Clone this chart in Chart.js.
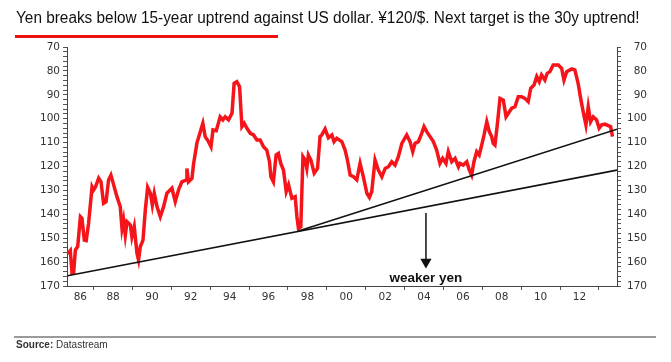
<!DOCTYPE html>
<html>
<head>
<meta charset="utf-8">
<script src="https://cdn.jsdelivr.net/npm/chart.js@4.4.1/dist/chart.umd.min.js"></script>
<style>
  html, body { margin: 0; padding: 0; background: #fff; }
  #wrap { position: relative; width: 671px; height: 362px; overflow: hidden; }
  #title { position: absolute; left: 16px; top: 10px; font: 16px/16px "Liberation Sans", Arial, sans-serif; color: #111; white-space: nowrap; transform-origin: 0 0; }
  #underline { position: absolute; left: 15px; top: 35px; width: 263px; height: 3px; background: #ee1111; }
  #srcline { position: absolute; left: 14px; top: 336px; width: 642px; height: 2px; background: #9a9a9a; }
  #source { position: absolute; left: 16px; top: 339px; font: 10px/12px "Liberation Sans", Arial, sans-serif; color: #333; }
  canvas { position: absolute; left: 0; top: 0; }
</style>
</head>
<body>
<div id="wrap">
  <canvas id="fx" width="671" height="362"></canvas>
  <div id="title">Yen breaks below 15-year uptrend against US dollar. ¥120/$. Next target is the 30y uptrend!</div>
  <div id="underline"></div>
  <div id="srcline"></div>
  <div id="source"><b>Source:</b> Datastream</div>
</div>
<script>
// USD/JPY (decimal years)
const fxYears = [
  1986.66, 1986.80, 1986.89, 1986.97, 1987.06, 1987.18, 1987.32, 1987.40, 1987.52, 1987.62,
  1987.74, 1987.92, 1988.00, 1988.09, 1988.26, 1988.38, 1988.51, 1988.64, 1988.77, 1988.89,
  1989.03, 1989.20, 1989.37, 1989.46, 1989.54, 1989.63, 1989.72, 1989.89, 1989.97, 1990.09,
  1990.23, 1990.31, 1990.40, 1990.54, 1990.66, 1990.78, 1990.92, 1991.02, 1991.12, 1991.26,
  1991.43, 1991.60, 1991.77, 1992.03, 1992.20, 1992.37, 1992.54, 1992.77, 1992.80, 1992.88,
  1993.06, 1993.14, 1993.32, 1993.45, 1993.62, 1993.74, 1993.91, 1994.04, 1994.14, 1994.31,
  1994.51, 1994.65, 1994.77, 1994.94, 1995.12, 1995.23, 1995.37, 1995.51, 1995.63, 1995.75,
  1995.89, 1996.06, 1996.23, 1996.40, 1996.57, 1996.74, 1996.91, 1997.05, 1997.12, 1997.25,
  1997.39, 1997.51, 1997.63, 1997.77, 1997.91, 1998.03, 1998.20, 1998.37, 1998.46, 1998.54,
  1998.66, 1998.77, 1998.88, 1998.97, 1999.05, 1999.18, 1999.35, 1999.52, 1999.65, 1999.74,
  1999.91, 2000.08, 2000.26, 2000.37, 2000.51, 2000.77, 2000.94, 2001.06, 2001.20, 2001.37,
  2001.54, 2001.71, 2001.88, 2002.06, 2002.19, 2002.31, 2002.48, 2002.65, 2002.83, 2003.00,
  2003.17, 2003.34, 2003.51, 2003.68, 2003.86, 2004.11, 2004.28, 2004.42, 2004.54, 2004.71,
  2004.88, 2005.00, 2005.14, 2005.31, 2005.48, 2005.65, 2005.82, 2005.96, 2006.13, 2006.25,
  2006.43, 2006.60, 2006.77, 2006.85, 2007.02, 2007.20, 2007.33, 2007.45, 2007.57, 2007.71,
  2007.84, 2007.97, 2008.09, 2008.23, 2008.36, 2008.48, 2008.56, 2008.65, 2008.77, 2008.91,
  2009.08, 2009.22, 2009.34, 2009.51, 2009.68, 2009.85, 2010.02, 2010.19, 2010.36, 2010.49,
  2010.66, 2010.80, 2010.93, 2011.05, 2011.22, 2011.34, 2011.48, 2011.65, 2011.91, 2012.08,
  2012.20, 2012.34, 2012.60, 2012.76, 2012.93, 2013.06, 2013.19, 2013.33, 2013.45, 2013.57,
  2013.71, 2013.88, 2014.01, 2014.14, 2014.31, 2014.48, 2014.60, 2014.70
];
const fxValues = [
  156.6, 155.2, 164.7, 164.7, 155, 153.5, 141, 141.7, 150.8, 151,
  143.8, 128.5, 129.8, 128.7, 124.9, 126.4, 135.4, 134.7, 125.6, 123.6,
  127.7, 132.6, 136.8, 145.9, 142.4, 148.7, 143.1, 144.5, 149.4, 145.2,
  156.3, 159.1, 153.6, 150.8, 138.2, 128.7, 131.2, 136.1, 131.2, 136.8,
  141, 136.8, 131.2, 129.1, 134.7, 129.8, 126.4, 125.6, 120.8, 126.4,
  125, 119, 110, 106.5, 101.9, 107.5, 109.6, 111.7, 104.7, 105,
  99.2, 100.5, 99.2, 100.5, 97.7, 85.2, 84.5, 86.6, 103.3, 101.9,
  104, 106.1, 106.8, 108.9, 108.9, 111.7, 113.1, 118, 124.3, 126.4,
  115.2, 114.5, 118.7, 121.5, 130.5, 127.7, 133.3, 132.6, 141, 145.9,
  145.2, 115.9, 117.3, 120.8, 115.2, 117.3, 122.8, 120.8, 107.5, 106.8,
  104.3, 108, 106.8, 109.6, 108.2, 109.6, 113.1, 117.3, 123.6, 124.3,
  125.6, 118.7, 124.3, 131.2, 132.9, 130.5, 117.3, 121.5, 124.3, 120.8,
  120.1, 118, 119.4, 115.9, 110.3, 106.8, 109.6, 113.8, 110.3, 109.6,
  106.1, 103.3, 105.4, 107.5, 109.6, 113.1, 118.7, 116.6, 118.7, 113.8,
  118, 116.6, 120.1, 118.7, 119.4, 118, 121.5, 123.6, 118, 113.8,
  115.2, 111, 106.8, 101.3, 105.4, 107.5, 110.3, 111, 102.6, 91.5,
  92.2, 99.2, 97.7, 95.6, 95, 90.8, 90.8, 91.5, 92.9, 87.3,
  85.9, 82.4, 84.5, 81.7, 83.8, 81, 80.3, 77.5, 77.5, 78.9,
  83.8, 80.3, 79.2, 79.6, 85.2, 91.5, 97.1, 102.6, 95, 101.3,
  99.2, 100.5, 104, 102.6, 102.3, 102.9, 103.3, 107.5
];

// trend lines: [start year, start value, end year, end value]
const trend30y = [1986.66, 165.7, 2014.93, 121.5];
const trend15y = [1998.54, 147.0, 2014.93, 104.4];

// "weaker yen" arrow
const arrowYear = 2005.10;
const arrowFrom = 139.5;
const arrowTo = 160.0;
const arrowLabel = 'weaker yen';
const arrowLabelValue = 166.7;

const xTickLabels = ['86', '88', '90', '92', '94', '96', '98', '00', '02', '04', '06', '08', '10', '12'];
const xMin = 1986.63, xMax = 2014.93;
const yMin = 70, yMax = 170;

// labels sit in the middle of the two-year band that starts with them, tick marks on the band edges
const labelAt = new Map();
xTickLabels.forEach((lab, i) => {
  const start = 1986 + 2 * i;
  const mid = (Math.max(start, xMin) + Math.min(start + 2, xMax)) / 2;
  labelAt.set(mid, lab);
});
const markAt = new Set();
for (let y = 1988; y <= 2014; y += 2) markAt.add(y);
const xTickValues = [...labelAt.keys(), ...markAt].sort((a, b) => a - b);

const axisFont = { family: 'DejaVu Sans', size: 10.5 };

function yAxis(position) {
  return {
    type: 'linear',
    position,
    min: yMin,
    max: yMax,
    reverse: true,
    afterFit: s => { s.width = position === 'left' ? 67 : 30; },
    ticks: {
      stepSize: 2,
      autoSkip: false,
      color: '#333',
      font: axisFont,
      padding: 3,
      crossAlign: position === 'left' ? 'near' : 'far',
      callback: v => (v % 10 === 0 ? v : '')
    },
    grid: { drawOnChartArea: false, tickLength: 4, tickColor: '#555' },
    border: { color: '#444', width: 1 }
  };
}

const weakerYenText = {
  id: 'weakerYenText',
  afterDatasetsDraw(chart) {
    const { ctx, scales } = chart;
    ctx.save();
    ctx.font = 'bold 13.5px "Liberation Sans", Arial, sans-serif';
    ctx.fillStyle = '#111';
    ctx.textAlign = 'center';
    ctx.textBaseline = 'middle';
    ctx.fillText(arrowLabel, scales.x.getPixelForValue(arrowYear), scales.y.getPixelForValue(arrowLabelValue));
    ctx.restore();
  }
};

const line = (a) => [{ x: a[0], y: a[1] }, { x: a[2], y: a[3] }];

const datasets = [
  {
    label: 'USD/JPY',
    data: fxYears.map((x, i) => ({ x, y: fxValues[i] })),
    borderColor: '#f5141a',
    borderWidth: 3.5,
    pointRadius: 0,
    tension: 0,
    order: 2
  },
  {
    label: '30y uptrend',
    data: line(trend30y),
    borderColor: '#111',
    borderWidth: 1.6,
    pointRadius: 0,
    order: 1
  },
  {
    label: '15y uptrend',
    data: line(trend15y),
    borderColor: '#111',
    borderWidth: 1.6,
    pointRadius: 0,
    order: 1
  },
  {
    label: 'arrow',
    data: [{ x: arrowYear, y: arrowFrom }, { x: arrowYear, y: arrowTo }],
    borderColor: '#111',
    borderWidth: 1.5,
    pointRadius: [0, 5],
    pointStyle: 'triangle',
    pointRotation: 180,
    pointBackgroundColor: '#111',
    pointBorderColor: '#111',
    order: 0
  }
];

new Chart(document.getElementById('fx'), {
  type: 'line',
  data: { datasets },
  options: {
    responsive: false,
    animation: false,
    devicePixelRatio: 1,
    layout: { padding: { top: 47, right: 24, bottom: 56, left: 0 } },
    plugins: { legend: { display: false }, tooltip: { enabled: false } },
    scales: {
      x: {
        type: 'linear',
        min: xMin,
        max: xMax,
        afterBuildTicks: s => { s.ticks = xTickValues.map(v => ({ value: v })); },
        afterFit: s => { s.height = 20; },
        ticks: {
          autoSkip: false,
          maxRotation: 0,
          minRotation: 0,
          color: '#333',
          font: axisFont,
          padding: 1,
          callback: v => labelAt.get(v) || ''
        },
        grid: {
          drawOnChartArea: false,
          tickLength: 4,
          tickColor: c => (c.tick && markAt.has(c.tick.value) ? '#555' : 'rgba(0,0,0,0)')
        },
        border: { color: '#444', width: 1 }
      },
      y: yAxis('left'),
      y2: yAxis('right')
    }
  },
  plugins: [weakerYenText]
});

const t = document.getElementById('title');
t.style.transform = 'scaleX(' + (624 / t.offsetWidth) + ')';
</script>
</body>
</html>
